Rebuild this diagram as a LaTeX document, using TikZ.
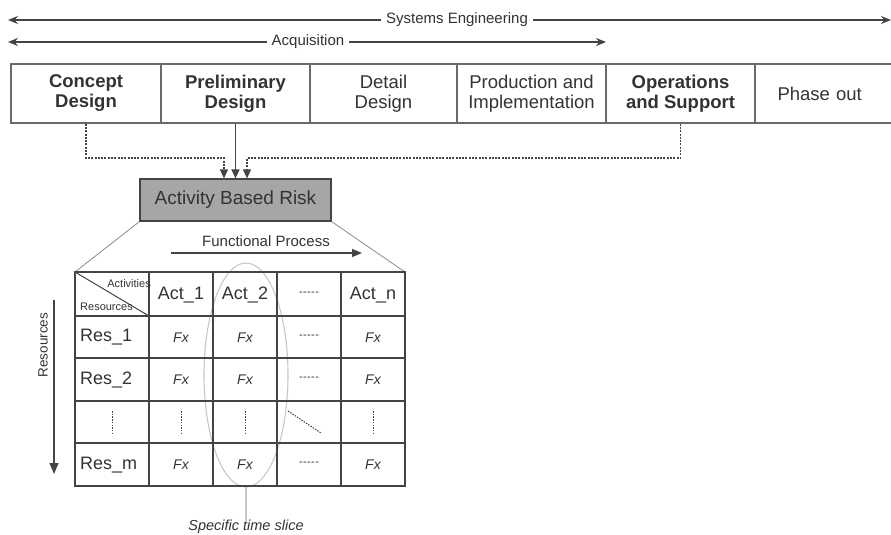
\documentclass[tikz,border=0pt]{standalone}
\usepackage{fontspec}
\setmainfont{Liberation Sans}
\usetikzlibrary{arrows.meta,calc}
\definecolor{ink}{HTML}{333333}
\definecolor{lin}{HTML}{444444}
\definecolor{boxline}{HTML}{6A6A6A}
\definecolor{abrfill}{HTML}{A6A6A6}
\definecolor{ell}{HTML}{C8C8C8}
\newcommand{\fivedash}{-\kern0.4pt-\kern0.4pt-\kern0.4pt-\kern0.4pt-}
\begin{document}
\begin{tikzpicture}[x=1pt,y=-1pt,
  every node/.style={text=ink, inner sep=0pt},
  toparrow/.style={draw=lin, line width=1.3pt, {Stealth[length=10pt,width=8pt]}-{Stealth[length=10pt,width=8pt]}},
  toplabel/.style={fill=white, inner xsep=5pt, inner ysep=2pt, font=\fontsize{15}{17}\selectfont},
  phase/.style={draw=boxline, line width=1.2pt, minimum height=59pt, align=center, font=\fontsize{18.5}{20}\selectfont},
  dsh/.style={draw=lin, line width=1.2pt, dash pattern=on 2pt off 1.3pt},
  intip/.style={-{Triangle[length=9pt,width=8pt]}},
  solidline/.style={draw=lin, line width=1.3pt},
  fanline/.style={draw=black!45, line width=0.8pt},
  gridline/.style={draw=lin, line width=1.1pt},
  cell/.style={font=\fontsize{18}{20}\selectfont},
  fx/.style={font=\fontsize{14}{16}\selectfont\itshape},
  dashtxt/.style={font=\fontsize{11}{13}\selectfont},
  dotline/.style={draw=lin, line width=1pt, dash pattern=on 1.5pt off 1.2pt}
]
\useasboundingbox (0,0) rectangle (891,535);

% top arrows
\coordinate (seL) at (8,20);
\coordinate (seR) at (891,20);
\draw[toparrow] (seL) -- (seR);
\node[toplabel] (se) at (457,20) {Systems Engineering};
\coordinate (acL) at (8,42);
\coordinate (acR) at (606,42);
\draw[toparrow] (acL) -- (acR);
\node[toplabel] (acq) at (308,42) {Acquisition};

% phases
\node[phase, minimum width=150pt, font=\fontsize{18.5}{20}\selectfont\bfseries] (cd) at (86,93.5) {Concept\\Design};
\node[phase, minimum width=149pt, font=\fontsize{18.5}{20}\selectfont\bfseries] (pd) at (235.5,93.5) {Preliminary\\Design};
\node[phase, minimum width=147pt] (dd) at (383.5,93.5) {Detail\\Design};
\node[phase, minimum width=149pt] (pi) at (531.5,93.5) {Production and\\Implementation};
\node[phase, minimum width=149pt, font=\fontsize{18.5}{20}\selectfont\bfseries] (os) at (680.5,93.5) {Operations\\and Support};
\node[phase, minimum width=145pt, text width=136pt, align=left] (po) at (827.5,93.5) {\hspace*{18pt}Phase out};

% activity based risk box
\node[draw=lin, line width=1.2pt, fill=abrfill, minimum width=191pt, minimum height=42pt,
      font=\fontsize{19}{22}\selectfont] (abr) at (235.5,200) {Activity Based Risk};

% connectors into box
\draw[dsh, intip] (cd.south) -- (cd.south |- 0,158) -| ([xshift=-11.5pt]abr.north);
\draw[solidline, intip] (pd.south) -- (abr.north);
\draw[dsh, intip] (os.south) -- (os.south |- 0,158) -| ([xshift=11.5pt]abr.north);

% table coordinates
\coordinate (tTL) at (75,272);
\coordinate (tTR) at (405,272);
\coordinate (tBL) at (75,486);
\coordinate (tBR) at (405,486);

% fan lines
\draw[fanline] (abr.south west) -- (tTL);
\draw[fanline] (abr.south east) -- (tTR);

% functional process
\node[font=\fontsize{15}{17}\selectfont] (fp) at (266,241) {Functional Process};
\coordinate (fpL) at (171,253);
\coordinate (fpR) at (362,253);
\draw[solidline, line width=1.1pt, -{Triangle[length=10pt,width=8pt]}] (fpL) -- (fpR);

% ellipse (time slice)
\draw[draw=ell, line width=1.1pt] (246,375) ellipse [x radius=42pt, y radius=112pt];

% table grid
\foreach \x in {149,213,277,341} \draw[gridline] (\x,272) -- (\x,486);
\foreach \y in {316,358,401,443} \draw[gridline] (75,\y) -- (405,\y);
\draw[draw=lin, line width=1.8pt] (tTL) rectangle (tBR);
\coordinate (hBR) at (149,316);
\draw[draw=lin, line width=1pt] (tTL) -- (hBR);

% header
\node[font=\fontsize{11}{12}\selectfont, anchor=base east] (hact) at (151,287) {Activities};
\node[font=\fontsize{11}{12}\selectfont, anchor=base west] (hres) at (80,310) {Resources};
\node[cell] (a1) at (181,295) {Act\_1};
\node[cell] (a2) at (245,295) {Act\_2};
\node[dashtxt] (an0) at (309,294) {\fivedash};
\node[cell] (an) at (373,295) {Act\_n};

% row labels
\node[cell, anchor=west] (r1) at (80,337.5) {Res\_1};
\node[cell, anchor=west] (r2) at (80,380) {Res\_2};
\node[cell, anchor=west] (rm) at (80,465) {Res\_m};

% Fx cells
\foreach \r/\yy in {1/337.5, 2/380, m/465}{
  \node[fx] (f\r a) at (181,\yy) {Fx};
  \node[fx] (f\r b) at (245,\yy) {Fx};
  \node[dashtxt] (f\r c) at (309,\yy-1) {\fivedash};
  \node[fx] (f\r d) at (373,\yy) {Fx};
}

% dots row
\foreach \x in {112,181,245,373} \draw[dotline] (\x,411) -- (\x,433);
\coordinate (dgA) at (288,411);
\coordinate (dgB) at (321,433);
\draw[dotline] (dgA) -- (dgB);

% resources arrow
\node[rotate=90, font=\fontsize{13.5}{15}\selectfont] (reslbl) at (43,345) {Resources};
\coordinate (raT) at (54,300);
\coordinate (raB) at (54,474);
\draw[draw=lin, line width=1.1pt, -{Triangle[length=11pt,width=9pt]}] (raT) -- (raB);

% specific time slice
\coordinate (ellB) at (246,487);
\node[font=\fontsize{14.5}{16}\selectfont\itshape] (sts) at (246,527) {Specific time slice};
\draw[draw=ell, line width=1.1pt] (ellB) -- ([yshift=-2pt]sts.north);
\end{tikzpicture}
\end{document}
